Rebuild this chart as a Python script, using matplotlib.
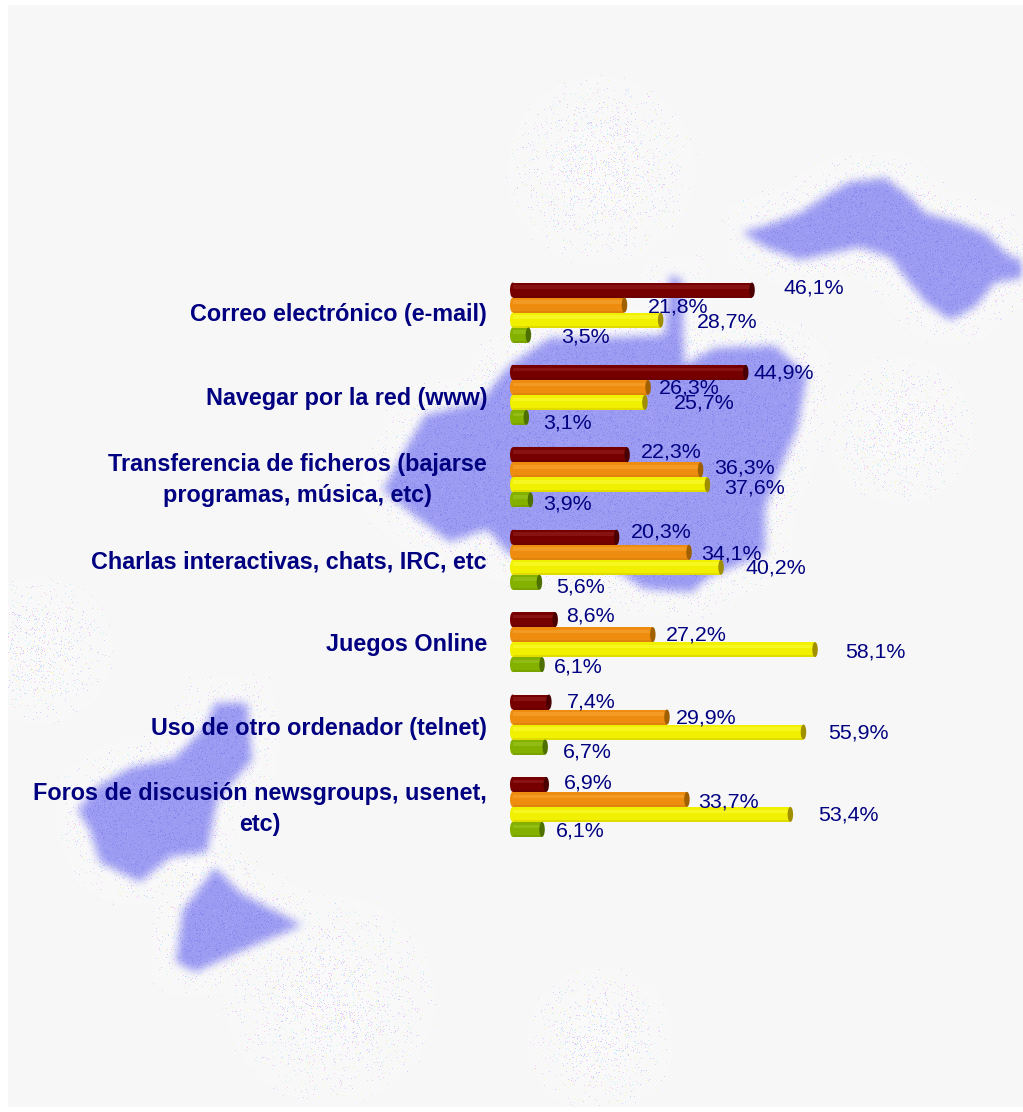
import numpy as np
import matplotlib
matplotlib.use("Agg")
import matplotlib.pyplot as plt
from matplotlib.path import Path
from matplotlib.patches import Ellipse

plt.rcParams['font.family'] = ['Liberation Sans', 'DejaVu Sans']

# ---- data ----
categories = ["Correo electrónico (e-mail)", "Navegar por la red (www)",
              "Transferencia de ficheros (bajarse\nprogramas, música, etc)",
              "Charlas interactivas, chats, IRC, etc", "Juegos Online",
              "Uso de otro ordenador (telnet)",
              "Foros de discusión newsgroups, usenet,\netc)"]
serie_a = [46.1, 44.9, 22.3, 20.3, 8.6, 7.4, 6.9]
serie_b = [21.8, 26.3, 36.3, 34.1, 27.2, 29.9, 33.7]
serie_c = [28.7, 25.7, 37.6, 40.2, 58.1, 55.9, 53.4]
serie_d = [3.5, 3.1, 3.9, 5.6, 6.1, 6.7, 6.1]

# ---- layout (pixels of the 1023x1112 picture) ----
W, H = 1023, 1112
cat_y = [315, 398, 480, 562, 645, 728, 809]
label_x = [[784, 648, 697, 561], [753, 659, 674, 543], [641, 714, 724, 543], [631, 701, 746, 556],
           [566, 666, 845, 554], [567, 676, 828, 563], [564, 698, 818, 556]]
label_y = [[288, 307, 322, 337], [373, 388, 403, 423], [452, 468, 488, 504], [532, 554, 568, 587],
           [616, 635, 652, 667], [702, 718, 733, 752], [783, 802, 815, 831]]
colors = [("#760000", "#861212", "#4a0000"), ("#ee8c10", "#f29a24", "#a06000"),
          ("#f0f000", "#f6f620", "#a09000"), ("#84b000", "#92bc14", "#4e7000")]
X0, PX_PER_PCT, Y0, GROUP_STEP, BAR_STEP = 510, 5.25, 290, 82.4, 15

# ---- background picture ----
shapes = [
    [(742,232),(765,226),(800,213),(830,193),(850,182),(885,178),(905,193),(925,213),(960,223),(985,233),
     (1005,253),(1030,265),(1030,277),(995,282),(975,307),(950,320),(925,302),(905,277),(890,257),(860,247),
     (800,260),(765,247)],
    [(383,490),(405,450),(425,415),(480,402),(510,365),(550,338),(600,338),(665,335),(670,275),(682,280),
     (684,365),(715,348),(775,346),(807,375),(797,430),(789,447),(765,507),(765,553),(705,579),(692,592),
     (645,589),(600,560),(510,555),(487,529),(450,542),(420,520)],
    [(78,810),(95,788),(130,768),(175,758),(205,728),(215,703),(247,703),(252,760),(217,800),(207,852),
     (170,857),(140,882),(100,862),(90,830)],
    [(176,962),(183,910),(215,868),(240,893),(302,925),(250,947),(195,972)],
]
soft_patches = [(600, 170, 90), (40, 650, 70), (900, 430, 70), (330, 1000, 100), (600, 1040, 70)]

def box_blur(a, n):
    k = np.ones(n) / n
    a = np.apply_along_axis(lambda r: np.convolve(r, k, mode='same'), 0, a)
    return np.apply_along_axis(lambda r: np.convolve(r, k, mode='same'), 1, a)

yy, xx = np.mgrid[0:H, 0:W]
pts = np.c_[xx.ravel() + .5, yy.ravel() + .5]
mask = np.zeros((H, W))
for s in shapes:
    mask += Path(s + [s[0]], closed=True).contains_points(pts).reshape(H, W)
mask = np.clip(mask, 0, 1)
halo = mask.copy()
mask = box_blur(box_blur(mask, 11), 9)
halo = box_blur(halo, 61)
for cx, cy, r in soft_patches:
    halo = np.maximum(halo, 0.6 * np.clip(1.1 - np.hypot(xx - cx, yy - cy) / r, 0, 1))
halo = np.clip(halo * 1.4, 0, 1)

# deterministic dither texture
h = np.sin(xx * 12.9898 + yy * 78.233) * 43758.5453
h = h - np.floor(h)
h2 = np.sin(xx * 39.346 + yy * 11.135) * 24634.6345
h2 = h2 - np.floor(h2)

base = np.array([0.972, 0.972, 0.975])
blue = np.array([0.61, 0.61, 0.95])
img = np.ones((H, W, 3)) * base
check = (((xx // 2) + (yy // 2)) % 2)
img += (0.008 * (check - .5))[..., None]
img = img * (1 - halo[..., None]) + np.array([0.99, 0.985, 0.99]) * halo[..., None]
dots = [(0.96, 0.80, 0.98), (0.80, 0.95, 0.98), (0.97, 0.97, 0.78), (0.82, 0.82, 0.98)]
for i, c in enumerate(dots):
    sel = (h < 0.18 * halo) & (np.floor(h2 * 4) == i)
    img[sel] = c
bmix = np.clip(mask, 0, 1)[..., None]
bluetex = np.ones((H, W, 3)) * blue
bluetex[h < 0.10] = (0.54, 0.54, 0.93)
bluetex[(h > 0.92)] = (0.66, 0.64, 0.97)
img = img * (1 - bmix) + bluetex * bmix
img[:5] = 1; img[-5:] = 1; img[:, :8] = 1

fig = plt.figure(figsize=(W / 100, H / 100), dpi=100, facecolor="white")
bg = fig.add_axes([0, 0, 1, 1])
bg.imshow(img, extent=(0, W, H, 0), aspect='auto', interpolation='nearest', zorder=0)
bg.set_xlim(0, W); bg.set_ylim(H, 0); bg.axis('off')

# ---- bar axes: x in %, y in pixel rows ----
ax = fig.add_axes([X0 / W, 0, (W - X0) / W, 1])
ax.set_xlim(0, (W - X0) / PX_PER_PCT); ax.set_ylim(H, 0)
ax.axis('off'); ax.patch.set_alpha(0)

series = [serie_a, serie_b, serie_c, serie_d]
cap_w = 5.5 / PX_PER_PCT
BH = 15
for j, (vals, (col, light, dark)) in enumerate(zip(series, colors)):
    ys = [Y0 + i * GROUP_STEP + j * BAR_STEP for i in range(len(vals))]
    lefts = cap_w / 2
    w = [v - lefts for v in vals]
    ax.barh(ys, w, left=lefts, height=BH, color=col, linewidth=0, zorder=2)
    ax.barh([y - 3 for y in ys], w, left=lefts, height=3.5, color=light, linewidth=0, zorder=3)
    ax.barh([y + 6.5 for y in ys], w, left=lefts, height=2, color=dark, alpha=.2, linewidth=0, zorder=3)
    for v, y in zip(vals, ys):
        ax.add_patch(Ellipse((lefts, y), cap_w, BH, color=col, lw=0, zorder=2, clip_on=False))
        ax.add_patch(Ellipse((v, y), cap_w, BH, color=dark, lw=0, zorder=4))

# ---- text ----
for name, y in zip(categories, cat_y):
    bg.text(487, y, name, ha='right', va='center', multialignment='center', fontsize=16.8,
            fontweight='bold', color="#000080", linespacing=1.44)
for xs, ys_, *vals in zip(label_x, label_y, serie_a, serie_b, serie_c, serie_d):
    for x, y, v in zip(xs, ys_, vals):
        fig.text(x / W, 1 - y / H, f"{v:.1f}%".replace('.', ','), ha='left', va='center',
                 fontsize=15.4, color="#000080", zorder=10)

fig.savefig("out.png", dpi=100)
